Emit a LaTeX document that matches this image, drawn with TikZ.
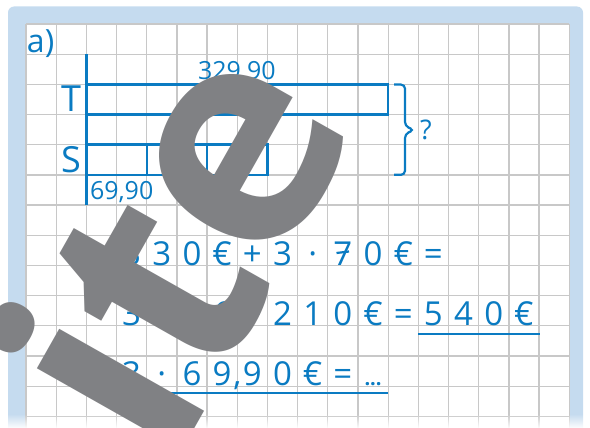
\documentclass[tikz,border=0pt]{standalone}
\usepackage{fontspec}
\setmainfont{Open Sans}
\usetikzlibrary{fadings}
\definecolor{frameblue}{HTML}{C5DBEF}
\definecolor{inkblue}{HTML}{0A7BC2}
\definecolor{gridgrey}{HTML}{C8C8C8}
\definecolor{wmgrey}{HTML}{808184}
\tikzset{
  ink/.style={text=inkblue, inner sep=0pt, outer sep=0pt},
  digit/.style={ink, anchor=base, font=\fontsize{33}{33}\selectfont},
  small/.style={ink, anchor=base, font=\fontsize{25}{25}\selectfont},
  label/.style={ink, anchor=base, font=\fontsize{36}{36}\selectfont},
  inkline/.style={draw=inkblue, line width=2.6pt},
  barline/.style={draw=inkblue, line width=2.4pt},
  gridline/.style={draw=gridgrey, line width=1.3pt},
  wm/.style={text=wmgrey, inner sep=0pt, anchor=base, rotate=60.5,
    font=\fontsize{305}{305}\selectfont\bfseries},
}
\begin{document}
\begin{tikzpicture}[x=1pt,y=-1pt]
\useasboundingbox (0,0) rectangle (590,428);
% frame
\fill[frameblue, rounded corners=6pt] (8,6.5) rectangle (583,470);
\fill[white] (26,24) rectangle (569.3,470);
% grid
\foreach \k in {0,...,18} \draw[gridline] ({26+30.18*\k},24) -- ({26+30.18*\k},428);
\foreach \k in {0,...,13} \draw[gridline] (26,{24+30.18*\k}) -- (569.3,{24+30.18*\k});
% a)
\node[ink, anchor=base west, font=\fontsize{32}{32}\selectfont] (a) at (27,53) {a)};
% bars
\draw[inkblue, line width=3pt] (86.4,54) -- (86.4,205);
\draw[barline] (86.4,84.4) rectangle (388.2,114.5);
\draw[barline] (86.4,144.7) rectangle (267.4,174.9);
\draw[barline] (146.7,144.7) -- (146.7,174.9);
\draw[barline] (207,144.7) -- (207,174.9);
\node[label] (T) at (71,112) {T};
\node[label] (S) at (71,172) {S};
\node[small, anchor=base west] (top) at (198,80) {329,90};
\node[small, anchor=base west] (bot) at (90,199) {69,90};
% brace
\draw[inkblue, line width=2.2pt, rounded corners=4pt] (394,84.6) -- (405,84.6) -- (405,126) -- (414,130) -- (405,134) -- (405,174.8) -- (394,174.8);
\coordinate (tip) at (414,130);
\node[ink, anchor=west, font=\fontsize{27}{27}\selectfont] (q) at (420,130) {?};
% equations
\foreach \c [count=\i from 3] in {3,3,0,€,+,3,·,7,0,€,=}
  \node[digit] (ra\i) at ({26+30.18*(\i+0.5)},265) {\c};
\draw[inkblue, line width=2.2pt] (336.5,253) -- (349,251.5);
\foreach \c [count=\i from 3] in {3,3,0,€,+,2,1,0,€,=,5,4,0,€}
  \node[digit] (rb\i) at ({26+30.18*(\i+0.5)},325.3) {\c};
\foreach \c [count=\i from 3] in {3,·,6,9,9,0,€,=}
  \node[digit] (rc\i) at ({26+30.18*(\i+0.5)},385.7) {\c};
\node[digit] (comma) at (237.5,385.7) {,};
\node[ink, anchor=base, font=\fontsize{20}{20}\selectfont\bfseries] (dots) at (373.1,385.7) {...};
\draw[inkline] (418,334) -- (540,334);
\draw[inkline] (116,393) -- (388,393);
% bottom fade
\fill[white, path fading=north] (0,414) rectangle (590,428.5);
% watermark
\node[wm] (wi) at (193,431) {i};
\node[wm] (wt) at (246,335) {t};
\node[wm] (we) at (318,200) {e};
\end{tikzpicture}
\end{document}
